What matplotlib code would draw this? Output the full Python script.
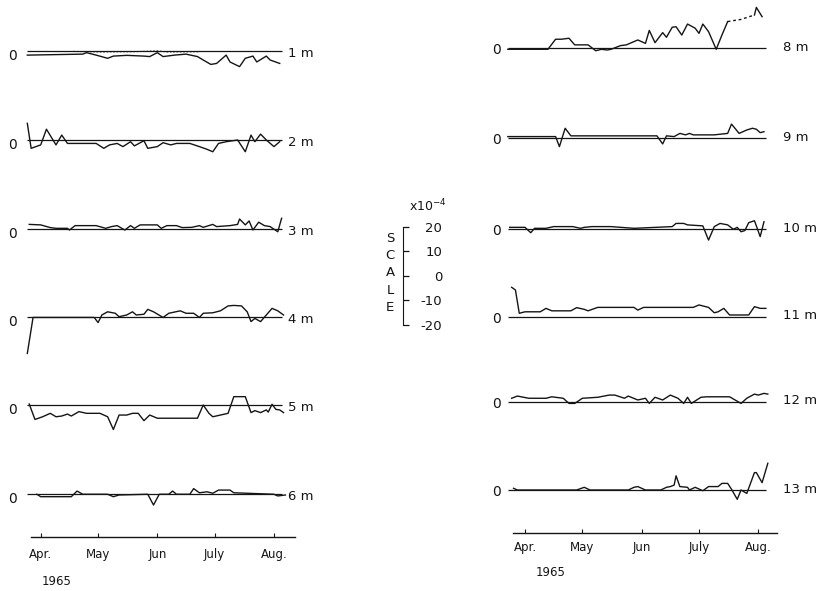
import numpy as np
import matplotlib
matplotlib.use("Agg")
import matplotlib.pyplot as plt

# days since 1 April 1965, values in units of 1e-4
days_1m = [-7, 22, 24, 29, 35, 38, 45, 54, 57, 61, 64, 70, 76, 82, 85, 89, 92, 97, 99, 104, 107, 111, 113, 118, 120, 125]
vals_1m = [-1.8, -1.4, -0.8, -1.8, -3.1, -2.2, -1.9, -2.2, -2.4, -0.8, -2.4, -1.8, -1.4, -2.4, -3.8, -5.6, -5.2, -1.8, -4.6, -6.5, -3.1, -2.2, -4.6, -2.2, -3.8, -5.2]
days_1m_dot = [17, 31, 48, 61, 66, 83]
vals_1m_dot = [-0.3, -0.5, -0.4, -0.1, -0.5, -0.4]

days_2m = [-7, -5, 0, 3, 8, 11, 14, 29, 33, 36, 40, 43, 47, 49, 54, 56, 61, 64, 68, 71, 78, 83, 87, 90, 93, 97, 103, 107, 110, 112, 115, 118, 122, 125]
vals_2m = [6.8, -3.4, -2.0, 4.4, -2.0, 2.0, -1.4, -1.4, -3.4, -2.0, -1.4, -2.7, -0.7, -2.4, -0.3, -3.4, -2.7, -1.1, -2.0, -1.4, -1.4, -2.7, -3.8, -4.8, -1.4, -0.7, 0.0, -4.8, 2.0, -0.7, 2.4, 0.0, -2.7, -0.7]

days_3m = [-6, 0, 5, 8, 14, 15, 18, 29, 34, 37, 40, 44, 47, 49, 52, 61, 63, 66, 71, 74, 79, 83, 85, 90, 92, 99, 103, 104, 107, 109, 111, 114, 117, 120, 124, 126]
vals_3m = [2.0, 1.8, 0.7, 0.4, 0.4, -0.3, 1.5, 1.5, 0.4, 1.1, 1.5, -0.3, 1.5, 0.4, 1.8, 1.8, 0.4, 1.5, 1.5, 0.7, 0.8, 1.5, 0.8, 2.0, 1.1, 1.5, 2.0, 4.2, 1.8, 3.4, -0.3, 2.9, 1.5, 1.1, -1.0, 4.5]

days_4m = [-7, -4, 28, 30, 32, 35, 39, 41, 45, 48, 50, 54, 56, 59, 64, 67, 73, 76, 80, 83, 85, 90, 94, 98, 101, 105, 108, 110, 112, 115, 118, 121, 124, 127]
vals_4m = [-15.0, -0.3, -0.3, -2.4, 0.7, 2.0, 1.4, 0.0, 0.7, 2.0, 0.7, 1.0, 3.0, 2.0, -0.3, 1.4, 2.4, 1.4, 1.4, -0.3, 1.4, 1.6, 2.4, 4.4, 4.6, 4.4, 2.0, -2.0, -0.7, -2.0, 0.7, 3.4, 2.4, 0.7]

days_5m = [-6, -3, 1, 5, 8, 11, 14, 16, 20, 24, 31, 35, 38, 41, 45, 48, 51, 54, 57, 61, 82, 85, 88, 90, 94, 98, 101, 107, 110, 112, 115, 118, 119, 121, 123, 125, 127]
vals_5m = [0.4, -5.9, -4.8, -3.4, -4.8, -4.5, -3.7, -4.5, -2.7, -3.4, -3.4, -4.8, -10.0, -4.1, -4.1, -3.4, -3.4, -6.4, -4.1, -5.4, -5.4, 0.0, -3.4, -4.8, -4.1, -3.4, 3.4, 3.4, -3.1, -2.3, -3.1, -2.0, -2.9, 0.3, -1.8, -2.0, -3.1]

days_6m = [-2, 0, 16, 19, 22, 35, 38, 41, 56, 59, 62, 67, 69, 71, 78, 80, 83, 87, 90, 93, 99, 101, 122, 124, 128]
vals_6m = [-0.1, -1.1, -1.1, 1.2, -0.1, -0.1, -1.1, -0.4, -0.1, -4.5, -0.1, -0.1, 1.2, -0.1, -0.1, 2.2, 0.5, 0.9, 0.3, 1.6, 1.6, 0.5, -0.1, -0.8, -0.4]

days_8m = [-9, 12, 16, 19, 23, 26, 33, 37, 40, 43, 45, 50, 53, 59, 63, 65, 68, 72, 74, 77, 79, 82, 85, 89, 91, 93, 96, 100, 103, 106]
vals_8m = [-0.4, -0.4, 3.7, 3.7, 4.1, 1.4, 1.4, -1.0, -0.4, -0.7, -0.4, 1.1, 1.4, 3.4, 2.0, 7.3, 2.3, 6.4, 4.5, 8.6, 8.8, 5.4, 9.9, 8.2, 6.1, 9.9, 6.8, -0.4, 5.4, 10.9]
days_8m_dash = [106, 109, 113, 120]
vals_8m_dash = [10.9, 11.3, 11.8, 13.6]
days_8m_end = [120, 121, 124]
vals_8m_end = [13.6, 16.7, 12.9]

days_9m = [-9, 16, 18, 21, 24, 69, 72, 74, 78, 81, 84, 86, 88, 99, 106, 108, 112, 116, 119, 121, 123, 125]
vals_9m = [0.7, 0.7, -3.4, 4.1, 1.0, 1.0, -2.3, 1.0, 0.7, 2.0, 1.4, 2.0, 1.4, 1.4, 2.0, 5.8, 2.0, 3.4, 4.1, 3.7, 2.3, 2.7]

days_10m = [-8, 0, 3, 5, 11, 15, 25, 29, 31, 35, 45, 57, 77, 79, 83, 85, 93, 96, 99, 102, 106, 109, 111, 113, 115, 117, 120, 121, 123, 125]
vals_10m = [0.8, 0.8, -1.4, 0.4, 0.4, 1.1, 1.1, 0.4, 0.8, 1.1, 1.1, 0.4, 1.1, 2.4, 2.4, 1.8, 1.4, -4.4, 1.1, 2.4, 1.8, 0.0, 0.8, -1.0, -0.5, 2.7, 3.5, 1.4, -3.0, 3.1]

days_11m = [-7, -5, -3, 0, 8, 11, 14, 24, 27, 31, 33, 38, 57, 59, 62, 88, 91, 96, 99, 101, 104, 107, 117, 120, 123, 126]
vals_11m = [12.0, 10.9, 1.4, 2.0, 2.0, 3.4, 2.4, 2.4, 3.7, 3.0, 2.4, 3.8, 3.8, 2.7, 3.8, 3.8, 4.8, 3.8, 1.6, 2.0, 3.4, 0.7, 0.7, 4.1, 3.4, 3.4]

days_12m = [-7, -4, 2, 11, 14, 20, 23, 26, 30, 38, 44, 47, 52, 54, 59, 63, 65, 68, 72, 76, 80, 83, 85, 87, 92, 95, 107, 113, 116, 120, 122, 125, 127]
vals_12m = [1.4, 2.3, 1.4, 1.4, 2.0, 1.4, -0.7, -0.7, 1.4, 1.8, 2.7, 2.7, 1.4, 2.3, 0.7, 1.4, -0.7, 1.8, 0.7, 2.7, 1.4, -0.7, 1.8, -0.7, 1.8, 2.0, 2.0, -0.7, 1.4, 3.1, 2.7, 3.4, 3.1]

days_13m = [-6, -4, 27, 31, 34, 54, 57, 59, 63, 71, 74, 76, 78, 79, 81, 85, 86, 89, 93, 96, 101, 103, 106, 108, 111, 113, 116, 120, 121, 124, 127]
vals_13m = [0.7, 0.0, 0.0, 1.1, 0.0, 0.0, 1.1, 1.4, 0.0, 0.0, 1.1, 1.4, 2.0, 5.8, 1.4, 1.1, 0.0, 1.1, -0.3, 1.4, 1.4, 2.7, 2.7, 0.3, -3.8, 0.0, -1.4, 7.1, 7.1, 3.0, 10.9]

depth_left = ["1 m", "2 m", "3 m", "4 m", "5 m", "6 m"]
depth_right = ["8 m", "9 m", "10 m", "11 m", "12 m", "13 m"]
month_ticks = [0, 30, 61, 91, 122]
month_labels = ["Apr.", "May", "Jun", "July", "Aug."]
scale_ticks = [20, 10, 0, -10, -20]

# layout (pixels of the 830x591 canvas)
W, H = 830, 591
PX_DAY = 1.912      # pixels per day
PX_UNIT = 2.45      # pixels per 1e-4
left_base = [50.7, 140, 229.3, 316.7, 405, 494]
right_base = [48.3, 138.3, 229.3, 316.7, 401.7, 490]

fig = plt.figure(figsize=(8.3, 5.91), dpi=100)
ink = "#151515"


def column_axes(x0, x1, apr_px, axis_y):
    ax = fig.add_axes([x0 / W, (H - axis_y) / H, (x1 - x0) / W, axis_y / H])
    ax.set_xlim((x0 - apr_px) / PX_DAY, (x1 - apr_px) / PX_DAY)
    ax.set_ylim(0, axis_y / PX_UNIT)
    ax.patch.set_visible(False)
    for s in ["left", "right", "top"]:
        ax.spines[s].set_visible(False)
    ax.spines["bottom"].set_linewidth(1.0)
    ax.spines["bottom"].set_color(ink)
    ax.set_yticks([])
    ax.set_xticks(month_ticks)
    ax.set_xticklabels(month_labels)
    return ax


axL = column_axes(31, 295, 40.7, 536.7)
axR = column_axes(513, 777, 525, 533)
axL.tick_params(axis="x", direction="in", length=3, width=0.8, pad=8, labelsize=8.5, colors=ink)
axR.tick_params(axis="x", direction="in", length=3, width=0.8, pad=6, labelsize=8.5, colors=ink)

left_series = [(days_1m, vals_1m), (days_2m, vals_2m), (days_3m, vals_3m),
               (days_4m, vals_4m), (days_5m, vals_5m), (days_6m, vals_6m)]
right_series = [(days_8m, vals_8m), (days_9m, vals_9m), (days_10m, vals_10m),
                (days_11m, vals_11m), (days_12m, vals_12m), (days_13m, vals_13m)]


def draw_column(ax, series, bases, names, axis_y, span, zero_x, zero_dy, lab_x, lab_dy):
    offs = []
    for (d, v), b, name in zip(series, bases, names):
        off = (axis_y - b) / PX_UNIT
        offs.append(off)
        ax.hlines(off, span[0], span[1], color=ink, lw=0.9, clip_on=False)
        ax.plot(d, np.array(v) + off, color=ink, lw=1.0, clip_on=False)
        ax.text(zero_x, off + zero_dy, "0", ha="center", va="center", fontsize=10, color=ink)
        ax.text(lab_x, off + lab_dy, name, ha="left", va="center", fontsize=9.5, color=ink)
    return offs


offL = draw_column(axL, left_series, left_base, depth_left, 536.7, (-7, 126), -14.5, -2.0, 129.5, -1.0)
offR = draw_column(axR, right_series, right_base, depth_right, 533, (-9, 126), -14.7, -0.8, 135, 0.3)

# extra pieces: dotted 1 m record, dashed end of 8 m record
axL.plot(days_1m_dot, np.array(vals_1m_dot) + offL[0], color=ink, lw=0.8, ls=(0, (1.5, 1.5)))
axR.plot(days_8m_dash, np.array(vals_8m_dash) + offR[0], color=ink, lw=1.0, ls=(0, (2, 2)))
axR.plot(days_8m_end, np.array(vals_8m_end) + offR[0], color=ink, lw=1.0, clip_on=False)

fig.text(57 / W, 1 - 581.7 / H, "1965", ha="center", va="center", fontsize=8.5, color=ink)
fig.text(551 / W, 1 - 572 / H, "1965", ha="center", va="center", fontsize=8.5, color=ink)

# scale bar
axS = fig.add_axes([(403.3 - 8) / W, (H - 325) / H, 8 / W, 98.3 / H])
axS.set_ylim(-20, 20)
axS.patch.set_visible(False)
for s in ["left", "top", "bottom"]:
    axS.spines[s].set_visible(False)
axS.spines["right"].set_color(ink)
axS.set_xticks([])
axS.yaxis.set_ticks_position("right")
axS.set_yticks(scale_ticks)
axS.set_yticklabels([str(t) for t in scale_ticks])
axS.tick_params(axis="y", direction="out", length=4, width=0.9, pad=24, labelsize=9.5, colors=ink)
for t in axS.get_yticklabels():
    t.set_horizontalalignment("right")

fig.text(428 / W, 1 - 206 / H, r"x10$^{-4}$", ha="center", va="center", fontsize=9, color=ink)
fig.text(390 / W, 1 - 273 / H, "S\nC\nA\nL\nE", ha="center", va="center",
         fontsize=9.5, linespacing=1.42, color=ink)

fig.savefig("out.png", dpi=100, facecolor="white")
